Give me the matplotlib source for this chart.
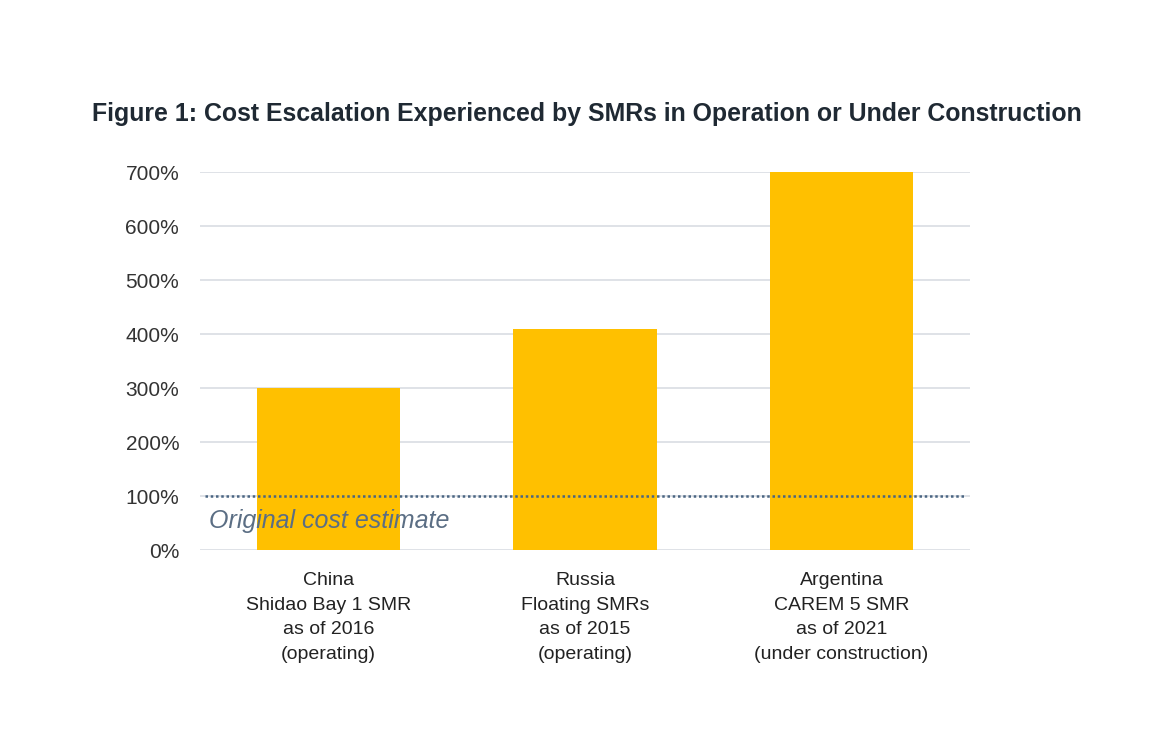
import matplotlib
matplotlib.use("Agg")
import matplotlib.pyplot as plt
from matplotlib.ticker import FuncFormatter

plt.rcParams['font.family'] = ['Liberation Sans', 'DejaVu Sans']

# data
categories = ["China\nShidao Bay 1 SMR\nas of 2016\n(operating)",
              "Russia\nFloating SMRs\nas of 2015\n(operating)",
              "Argentina\nCAREM 5 SMR\nas of 2021\n(under construction)"]
escalation = [300, 410, 700]
original_estimate = 100
yticks = [0, 100, 200, 300, 400, 500, 600, 700]

fig = plt.figure(figsize=(11.7, 7.29), dpi=100)
ax = fig.add_axes([0.171, 0.2455, 0.658, 0.5185])

ax.bar(range(len(categories)), escalation, width=0.56, color="#ffc000", zorder=2, clip_on=False)
ax.axhline(original_estimate, color="#4a6582", linestyle=(0, (1, 1.1)), linewidth=1.8, zorder=3,
           xmin=0.006, xmax=0.994)
ax.text(-0.465, original_estimate - 47, "Original cost estimate", style="italic", fontsize=18,
        color="#5b6e84", va="center", ha="left", zorder=4)

ax.set_xlim(-0.5, 2.5)
ax.set_ylim(0, 700)
ax.set_yticks(yticks)
ax.yaxis.set_major_formatter(FuncFormatter(lambda v, p: f"{int(v)}%"))
ax.grid(axis="y", color="#d9dde3", linewidth=1.2, zorder=0)
for s in ax.spines.values():
    s.set_visible(False)
ax.tick_params(axis="y", length=0, pad=15, labelsize=15, labelcolor="#333333")
ax.set_xticks(range(len(categories)))
ax.set_xticklabels(categories, fontsize=14, color="#222222", linespacing=1.58)
ax.tick_params(axis="x", length=0, pad=16)

fig.text(0.502, 0.843, "Figure 1: Cost Escalation Experienced by SMRs in Operation or Under Construction",
         ha="center", va="center", fontsize=17.9, fontweight="bold", color="#1f2933")

fig.savefig("out.png", dpi=100, facecolor="white")
